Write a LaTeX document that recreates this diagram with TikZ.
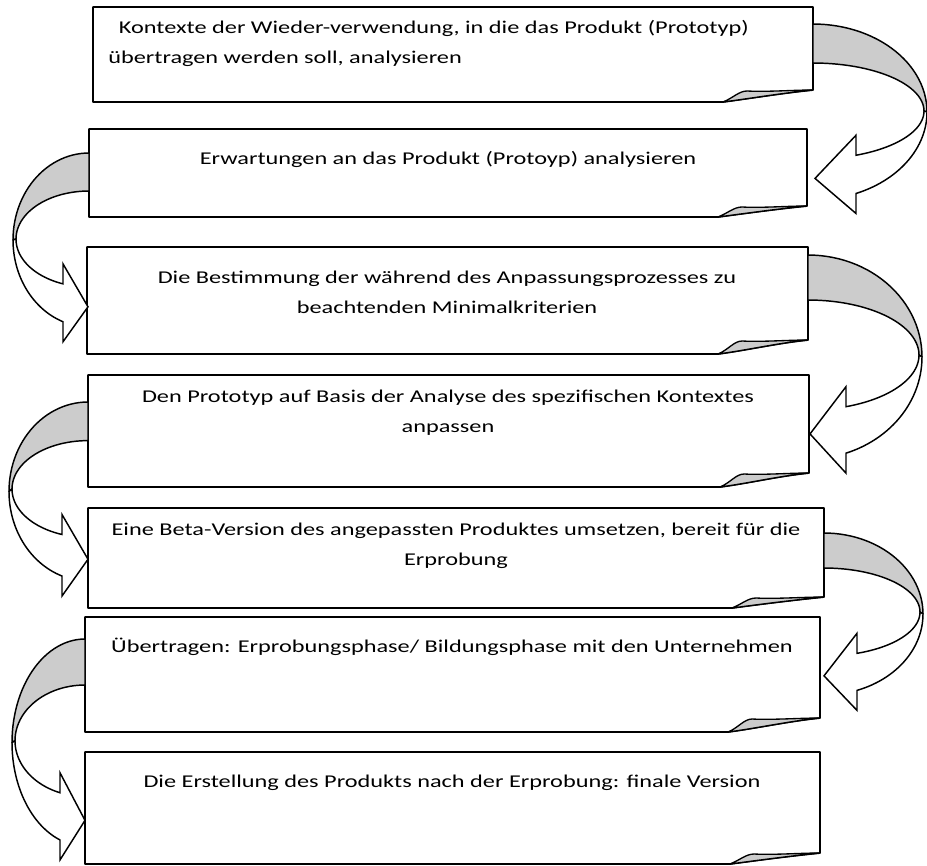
\documentclass[tikz,border=0pt]{standalone}
\usepackage{fontspec}
\setmainfont{Carlito}[FakeStretch=1.35]
\definecolor{curl}{RGB}{204,204,204}
\tikzset{
 boxline/.style={draw=black, line width=1.3pt, line join=round},
 band/.style={draw=black, fill=curl, line width=1.1pt, line join=round},
 shaft/.style={draw=black, fill=white, line width=1.1pt, line join=miter},
 txt/.style={inner sep=0pt, font=\fontsize{13.5pt}{22.5pt}\selectfont, align=center},
}
% L T R RB B C
\newcommand\docbox[6]{%
 \filldraw[boxline, fill=white] (#1,#2) -- (#3,#2) -- (#3,#4) .. controls ({#3-30},{#4+3}) and ({#6+30},{#5-4}) .. (#6,#5) -- (#1,#5) -- cycle;
 \filldraw[boxline, fill=curl, line width=1pt] (#6,#5) .. controls ({#6+10},{#5-4}) and ({#6+16},{#4+1}) .. ({#6+24},{#4+1}) .. controls ({#6+45},{#4+2}) and ({#3-20},{#4}) .. (#3,#4) .. controls ({#3-30},{#4+3}) and ({#6+30},{#5-4}) .. (#6,#5) -- cycle;
}
% sign xb rx cy1 ry1 cy2 ry2 xa xt
\newcommand\bentarrow[9]{%
 \pgfmathsetmacro\arRb{#3-3}%
 \pgfmathsetmacro\arTa{180-asin(abs(#8-#2)/#3)}%
 \pgfmathsetmacro\arTb{180-asin(abs(#8-#2)/\arRb)}%
 \pgfmathsetmacro\arYa{#4-#5*cos(\arTa)}%
 \pgfmathsetmacro\arYb{#6-#7*cos(\arTb)}%
 \pgfmathsetmacro\arYt{(\arYa+\arYb)/2+4}%
 \filldraw[band] plot[domain=0:90, samples=30] ({#2+(#1)*#3*sin(\x)},{#4-#5*cos(\x)}) -- plot[domain=90:0, samples=30] ({#2+(#1)*\arRb*sin(\x)},{#6-#7*cos(\x)}) -- cycle;
 \filldraw[shaft] plot[domain=90:\arTb, samples=30] ({#2+(#1)*\arRb*sin(\x)},{#6-#7*cos(\x)}) -- (#8,{\arYb-20}) -- (#9,\arYt) -- (#8,{\arYa+20}) -- plot[domain=\arTa:90, samples=30] ({#2+(#1)*#3*sin(\x)},{#4-#5*cos(\x)}) -- cycle;
}
\begin{document}
\begin{tikzpicture}[x=0.75pt,y=-0.75pt]
\fill[white] (0,0) rectangle (927,865);
\useasboundingbox (0,0) rectangle (927,865);
\docbox{93}{7}{813}{90}{102}{723}
\docbox{89}{129}{807}{206}{217}{718}
\docbox{87}{247}{808}{340}{354}{718}
\docbox{88}{375}{809}{473}{487}{720}
\docbox{88}{508}{824}{597}{608}{732}
\docbox{85}{617}{820}{718}{732}{728}
\docbox{85}{752}{820}{853}{864}{730}

\bentarrow{1}{813}{114}{112}{88}{111}{48}{856}{815}
\bentarrow{-1}{89}{76}{240}{87}{239}{48}{63}{88}
\bentarrow{1}{808}{114}{357}{102}{355}{55}{846}{810}
\bentarrow{-1}{88}{79}{491.5}{89.5}{489}{48.4}{62}{88}
\bentarrow{1}{824}{99}{614}{81}{612}{44}{857}{824}
\bentarrow{-1}{85}{73}{742.6}{103.6}{740.7}{55.7}{60}{85}

\node[txt, anchor=north west, align=left] (b1) at (108,12) {\strut\hspace*{8pt}Kontexte der Wieder-verwendung, in die das Produkt (Prototyp)\\übertragen werden soll, analysieren};
\node[txt, anchor=north] (b2) at (448,143) {\strut Erwartungen an das Produkt (Protoyp) analysieren};
\node[txt, anchor=north] (b3) at (447,262) {\strut Die Bestimmung der während des Anpassungsprozesses zu\\beachtenden Minimalkriterien};
\node[txt, anchor=north] (b4) at (448,381) {\strut Den Prototyp auf Basis der Analyse des spezifischen Kontextes\\anpassen};
\node[txt, anchor=north] (b5) at (456,514) {\strut Eine Beta-Version des angepassten Produktes umsetzen, bereit für die\\Erprobung};
\node[txt, anchor=north] (b6) at (452,631) {\strut Übertragen: Erprobungsphase/ Bildungsphase mit den Unternehmen};
\node[txt, anchor=north] (b7) at (452,766) {\strut Die Erstellung des Produkts nach der Erprobung: finale Version};
\end{tikzpicture}
\end{document}
